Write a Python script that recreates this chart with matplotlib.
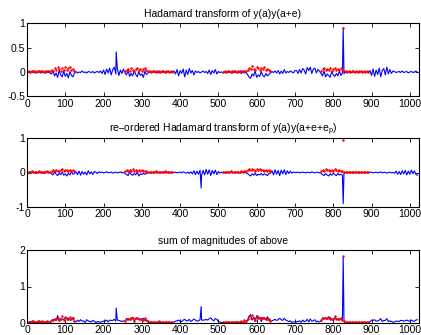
import numpy as np
import matplotlib
matplotlib.use("Agg")
import matplotlib.pyplot as plt

plt.rcParams['font.family'] = ['Liberation Sans', 'DejaVu Sans']
plt.rcParams['font.size'] = 7.5
plt.rcParams['mathtext.fontset'] = 'custom'
plt.rcParams['mathtext.rm'] = 'Liberation Sans'
plt.rcParams['mathtext.it'] = 'Liberation Sans'

N = 1024
step = 4
x_blue = np.arange(0, N, step)

# red ranges (start indices, each 128 long)
red_starts = [0, 256, 512, 768]

# ---- top panel: Hadamard transform of y(a)y(a+e) ----
top_blue = [
    -0.01, 0.0, -0.02, 0.01, -0.01, -0.02, 0.0, -0.01, 0.01, -0.02, -0.01, 0.0, -0.02, -0.01, 0.01, -0.02,
    -0.04, 0.02, -0.08, -0.02, -0.11, 0.03, -0.06, -0.1, 0.02, -0.09, -0.03, -0.12, 0.01, -0.07, -0.1, -0.02,
    0.01, -0.02, 0.0, -0.01, 0.02, -0.01, 0.0, -0.02, 0.01, 0.0, -0.01, 0.01, -0.02, 0.0, 0.01, -0.01,
    0.02, -0.03, 0.04, -0.05, 0.06, -0.02, 0.08, -0.06, 0.05, 0.1, -0.04, 0.07, -0.07, 0.04, -0.03, 0.06,
    -0.02, -0.06, 0.03, -0.09, -0.03, -0.08, 0.02, -0.05, -0.1, 0.01, -0.07, -0.04, -0.11, 0.02, -0.05, -0.02,
    0.0, -0.01, 0.01, -0.01, 0.0, 0.01, -0.02, 0.0, 0.01, -0.01, 0.0, -0.02, 0.01, 0.0, -0.01, 0.0,
    0.02, -0.04, 0.05, -0.08, 0.03, -0.03, 0.06, -0.1, 0.04, -0.05, 0.07, -0.02, 0.03, -0.06, 0.02, -0.01,
    0.01, -0.02, 0.0, 0.02, -0.01, 0.01, -0.03, 0.04, -0.05, 0.03, -0.02, 0.05, -0.04, 0.01, -0.01, 0.0,
    -0.01, 0.0, -0.02, 0.01, -0.01, 0.0, -0.02, -0.01, 0.01, -0.02, 0.0, -0.01, -0.03, 0.0, -0.02, -0.01,
    -0.05, -0.1, -0.13, -0.04, -0.08, 0.02, -0.11, -0.06, -0.09, 0.01, -0.07, -0.1, -0.03, -0.08, -0.05, -0.02,
    0.01, -0.01, 0.02, -0.02, 0.03, -0.04, 0.02, -0.03, 0.05, -0.02, 0.01, -0.01, 0.02, 0.0, -0.02, 0.03,
    0.03, -0.03, 0.05, -0.02, 0.07, 0.04, -0.04, 0.09, 0.03, 0.1, -0.03, 0.06, 0.08, -0.02, 0.05, 0.02,
    -0.03, -0.08, 0.02, -0.1, -0.04, -0.07, -0.11, 0.01, -0.06, -0.09, -0.03, -0.08, 0.02, -0.07, -0.02, -0.04,
    0.0, -0.01, 0.0, 0.01, -0.01, 0.0, -0.01, 0.01, 0.0, -0.01, 0.0, 0.01, -0.01, 0.0, 0.01, -0.01,
    0.03, -0.07, 0.06, -0.09, 0.04, -0.05, 0.08, -0.1, 0.03, 0.07, -0.06, 0.1, -0.04, 0.05, -0.03, 0.02,
    0.01, -0.01, 0.0, 0.01, -0.01, 0.02, -0.01, 0.0, 0.01, -0.02, 0.0, 0.01, -0.01, 0.0, 0.02, -0.01,
]
top_spike_idx = [233, 826]
top_spike_val = [0.41, 0.9]

top_red = [
    0.02, 0.03, 0.01, 0.02, 0.03, 0.02, 0.01, 0.03, 0.02, 0.02, 0.03, 0.01, 0.02, 0.03, 0.02, 0.02,
    0.05, 0.03, 0.08, 0.04, 0.1, 0.06, 0.03, 0.09, 0.05, 0.11, 0.04, 0.08, 0.1, 0.05, 0.07, 0.03,
    0.02, 0.04, 0.07, 0.03, 0.08, 0.05, 0.02, 0.06, 0.09, 0.04, 0.07, 0.03, 0.06, 0.08, 0.04, 0.03,
    0.02, 0.01, 0.02, 0.02, 0.01, 0.02, 0.03, 0.01, 0.02, 0.02, 0.01, 0.02, 0.02, 0.01, 0.02, 0.01,
    0.01, 0.02, 0.01, 0.02, 0.02, 0.01, 0.02, 0.03, 0.02, 0.01, 0.02, 0.02, 0.03, 0.02, 0.03, 0.02,
    0.05, 0.09, 0.06, 0.12, 0.07, 0.04, 0.1, 0.08, 0.05, 0.09, 0.06, 0.1, 0.04, 0.07, 0.05, 0.03,
    0.03, 0.06, 0.09, 0.04, 0.07, 0.05, 0.08, 0.03, 0.06, 0.09, 0.05, 0.07, 0.04, 0.08, 0.06, 0.03,
    0.02, 0.01, 0.02, 0.01, 0.02, 0.02, 0.01, 0.02, 0.01, 0.02, 0.02, 0.01, 0.02, 0.01, 0.02, 0.01,
]
top_red_spike = 0.9

# ---- middle panel: re-ordered transform ----
mid_blue = [
    -0.01, 0.0, -0.02, 0.01, 0.0, -0.01, -0.02, 0.0, 0.01, -0.01, 0.0, -0.02, 0.01, 0.0, -0.01, 0.0,
    -0.03, -0.07, 0.02, -0.05, -0.09, -0.02, -0.06, 0.01, -0.08, -0.04, -0.1, -0.02, -0.07, 0.02, -0.05, -0.03,
    0.02, -0.06, 0.04, -0.08, 0.03, -0.05, 0.01, -0.07, 0.05, -0.04, 0.02, -0.06, 0.03, 0.01, -0.03, 0.02,
    0.0, 0.01, -0.01, 0.0, 0.02, -0.01, 0.0, 0.01, -0.02, 0.0, 0.01, -0.01, 0.0, 0.02, -0.01, 0.0,
    -0.02, -0.06, -0.09, 0.01, -0.05, -0.08, -0.03, -0.07, 0.02, -0.1, -0.04, -0.06, -0.02, -0.05, -0.03, -0.01,
    0.0, -0.01, 0.0, 0.01, -0.01, 0.0, 0.0, -0.01, 0.01, 0.0, -0.01, 0.0, 0.01, -0.01, 0.0, 0.0,
    0.0, 0.01, -0.01, 0.0, 0.01, -0.01, 0.02, 0.0, -0.02, 0.01, -0.03, 0.02, -0.04, 0.05, -0.06, 0.04,
    -0.05, 0.07, -0.08, 0.06, -0.07, 0.09, -0.05, 0.08, -0.09, 0.06, -0.04, 0.07, -0.06, 0.03, -0.02, 0.01,
    0.0, -0.01, 0.0, 0.01, -0.01, 0.0, 0.0, -0.01, 0.0, 0.01, 0.0, -0.01, 0.0, 0.0, 0.01, -0.01,
    -0.03, -0.07, -0.1, -0.04, -0.08, -0.02, -0.09, -0.05, -0.07, -0.03, -0.08, -0.04, -0.06, -0.09, -0.03, -0.02,
    0.05, -0.07, 0.08, -0.05, 0.06, -0.09, 0.07, -0.04, 0.08, -0.06, 0.05, -0.03, 0.04, -0.02, 0.01, 0.0,
    0.0, 0.01, -0.01, 0.0, 0.01, 0.0, -0.01, 0.01, 0.0, -0.01, 0.02, 0.0, -0.01, 0.01, 0.0, -0.01,
    -0.02, -0.06, -0.09, -0.03, -0.07, -0.1, -0.04, -0.08, -0.02, -0.06, -0.09, -0.03, -0.07, -0.05, -0.08, -0.03,
    0.0, -0.01, 0.0, 0.01, 0.0, -0.01, 0.0, 0.0, 0.01, -0.01, 0.0, 0.0, -0.01, 0.01, 0.0, 0.0,
    0.0, 0.01, -0.01, 0.0, 0.01, -0.01, 0.0, 0.02, -0.01, 0.0, 0.01, -0.02, 0.0, 0.01, -0.01, 0.0,
    -0.02, 0.04, -0.05, 0.03, -0.06, 0.05, -0.04, 0.06, -0.07, 0.04, -0.05, 0.07, -0.04, 0.05, -0.06, -0.08,
]
mid_spike_idx = [455, 826]
mid_spike_val = [-0.45, -0.9]

mid_red = [
    0.02, 0.01, 0.02, 0.03, 0.02, 0.01, 0.02, 0.02, 0.03, 0.01, 0.02, 0.02, 0.01, 0.03, 0.02, 0.02,
    0.03, 0.06, 0.04, 0.08, 0.05, 0.03, 0.07, 0.09, 0.04, 0.06, 0.08, 0.03, 0.07, 0.05, 0.08, 0.03,
    0.03, 0.06, 0.04, 0.08, 0.05, 0.09, 0.03, 0.07, 0.05, 0.08, 0.04, 0.06, 0.03, 0.05, 0.03, 0.02,
    0.02, 0.01, 0.02, 0.02, 0.03, 0.01, 0.02, 0.02, 0.01, 0.02, 0.03, 0.02, 0.01, 0.02, 0.02, 0.01,
    0.01, 0.02, 0.02, 0.01, 0.02, 0.03, 0.02, 0.01, 0.02, 0.02, 0.01, 0.02, 0.03, 0.02, 0.04, 0.03,
    0.06, 0.09, 0.07, 0.11, 0.08, 0.05, 0.1, 0.07, 0.09, 0.06, 0.08, 0.05, 0.07, 0.04, 0.06, 0.03,
    0.04, 0.07, 0.05, 0.09, 0.06, 0.08, 0.04, 0.07, 0.05, 0.09, 0.06, 0.04, 0.07, 0.05, 0.03, 0.02,
    0.02, 0.01, 0.02, 0.02, 0.01, 0.02, 0.01, 0.02, 0.02, 0.01, 0.02, 0.01, 0.02, 0.02, 0.01, 0.02,
]
mid_red_spike = 0.93

red_spike_idx = 826


def with_spikes(xs, ys, sidx, sval):
    xs = list(xs) + list(sidx)
    ys = list(ys) + list(sval)
    order = np.argsort(xs, kind='stable')
    return np.array(xs)[order], np.array(ys)[order]


x_red = np.concatenate([np.arange(s, s + 128, step) for s in red_starts])

tbx, tby = with_spikes(x_blue, top_blue, top_spike_idx, top_spike_val)
mbx, mby = with_spikes(x_blue, mid_blue, mid_spike_idx, mid_spike_val)
trx, try_ = with_spikes(x_red, top_red, [red_spike_idx], [top_red_spike])
mrx, mry = with_spikes(x_red, mid_red, [red_spike_idx], [mid_red_spike])

# bottom: sum of magnitudes of the two panels above
all_idx = sorted(set(top_spike_idx) | set(mid_spike_idx))
sb_spikes = []
for i in all_idx:
    a = top_spike_val[top_spike_idx.index(i)] if i in top_spike_idx else 0.0
    b = mid_spike_val[mid_spike_idx.index(i)] if i in mid_spike_idx else 0.0
    sb_spikes.append(abs(a) + abs(b))
sbx, sby = with_spikes(x_blue, np.abs(top_blue) + np.abs(mid_blue), all_idx, sb_spikes)
srx, sry = with_spikes(x_red, np.abs(top_red) + np.abs(mid_red), [red_spike_idx],
                       [abs(top_red_spike) + abs(mid_red_spike)])

fig = plt.figure(figsize=(4.21, 3.35), dpi=100)
W = 421.0
H = 335.0


def make_ax(top_px, bot_px):
    return fig.add_axes([27 / W, 1 - bot_px / H, (419 - 27) / W, (bot_px - top_px) / H])


ax1 = make_ax(23, 96.5)
ax2 = make_ax(138, 207)
ax3 = make_ax(250, 323)

blue = '#0000ff'
red = '#ff0000'

ax1.plot(tbx, tby, color=blue, lw=0.8)
ax1.plot(trx, try_, '.', color=red, ms=1.6)
ax1.set_ylim(-0.5, 1)
ax1.set_yticks([-0.5, 0, 0.5, 1])
ax1.set_yticklabels(['-0.5', '0', '0.5', '1'])
ax1.set_title('Hadamard transform of y(a)y(a+e)', fontsize=7.5, pad=4)

ax2.plot(mbx, mby, color=blue, lw=0.8)
ax2.plot(mrx, mry, '.', color=red, ms=1.6)
ax2.set_ylim(-1, 1)
ax2.set_yticks([-1, 0, 1])
ax2.set_yticklabels(['-1', '0', '1'])
ax2.set_title('re\u2013ordered Hadamard transform of y(a)y(a+e+e$_\\mathrm{p}$)', fontsize=7.5, pad=4)

ax3.plot(sbx, sby, color=blue, lw=0.8)
ax3.plot(srx, sry, '.', color=red, ms=1.6)
ax3.set_ylim(0, 2)
ax3.set_yticks([0, 1, 2])
ax3.set_title('sum of magnitudes of above', fontsize=7.5, pad=4)

for ax in (ax1, ax2, ax3):
    ax.set_xlim(0, N)
    ax.set_xticks(range(0, 1001, 100))
    ax.tick_params(direction='in', top=True, right=True, length=3, width=0.6,
                   labelsize=7.5, pad=1.5)
    for s in ax.spines.values():
        s.set_linewidth(0.8)

fig.savefig('out.png', dpi=100)
